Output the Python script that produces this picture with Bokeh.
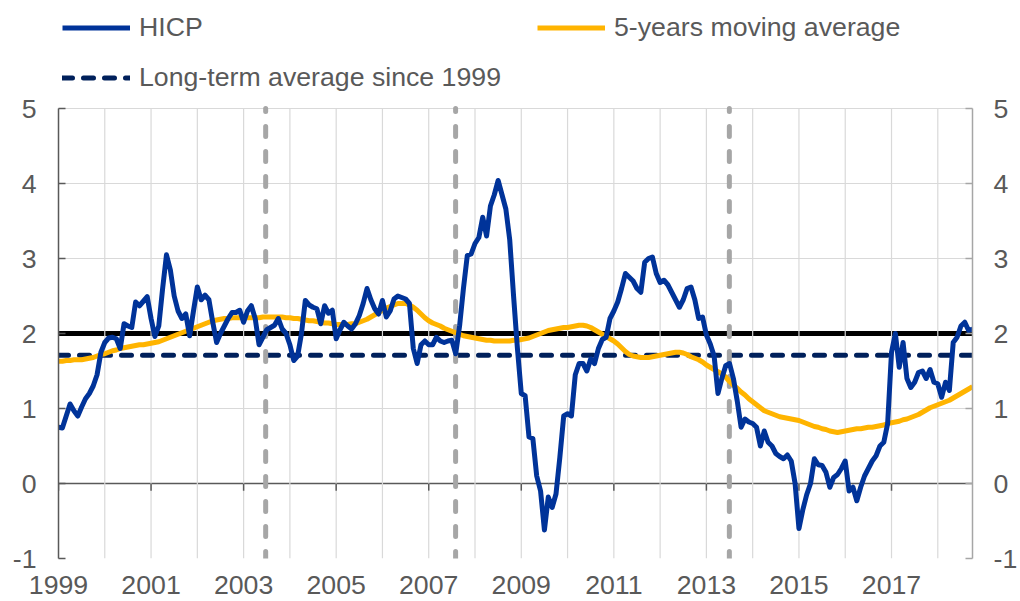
import pandas as pd
from bokeh.plotting import figure
from bokeh.models import FixedTicker, LinearAxis, Range1d, Span, Legend, LegendItem
from bokeh.embed import file_html
from bokeh.resources import INLINE

# ---------------- data (monthly, from January 1999) ----------------
start = "1999-01-01"
hicp = [
    0.75, 0.74, 0.90, 1.06, 0.97, 0.90, 1.02, 1.13, 1.20, 1.30, 1.45, 1.75,   # 1999
    1.88, 1.94, 1.95, 1.93, 1.80, 2.13, 2.10, 2.08, 2.42, 2.37, 2.43, 2.49,   # 2000
    2.20, 1.96, 2.10, 2.60, 3.05, 2.85, 2.50, 2.30, 2.20, 2.26, 1.97, 2.30,   # 2001
    2.62, 2.45, 2.51, 2.45, 2.15, 1.88, 2.00, 2.10, 2.20, 2.28, 2.28, 2.31,   # 2002
    2.15, 2.30, 2.37, 2.20, 1.85, 1.95, 2.05, 2.08, 2.11, 2.20, 2.06, 2.00,   # 2003
    1.85, 1.64, 1.70, 2.00, 2.44, 2.38, 2.35, 2.33, 2.13, 2.37, 2.27, 2.31,   # 2004
    1.93, 2.05, 2.15, 2.10, 2.06, 2.13, 2.24, 2.40, 2.60, 2.45, 2.33, 2.26,   # 2005
    2.44, 2.22, 2.30, 2.46, 2.50, 2.48, 2.46, 2.40, 1.80, 1.60, 1.85, 1.90,   # 2006
    1.85, 1.85, 1.95, 1.90, 1.88, 1.90, 1.91, 1.73, 2.10, 2.60, 3.04, 3.06,   # 2007
    3.20, 3.28, 3.55, 3.30, 3.70, 3.85, 4.04, 3.85, 3.66, 3.25, 2.50, 1.80,   # 2008
    1.20, 1.17, 0.62, 0.60, 0.10, -0.10, -0.62, -0.18, -0.32, -0.14, 0.35, 0.90,  # 2009
    0.93, 0.90, 1.45, 1.60, 1.60, 1.50, 1.66, 1.60, 1.80, 1.92, 1.95, 2.20,   # 2010
    2.30, 2.42, 2.60, 2.80, 2.75, 2.70, 2.60, 2.55, 2.95, 3.00, 3.02, 2.80,   # 2011
    2.68, 2.71, 2.65, 2.55, 2.45, 2.35, 2.45, 2.60, 2.62, 2.45, 2.20, 2.22,   # 2012
    1.98, 1.86, 1.70, 1.20, 1.40, 1.57, 1.60, 1.40, 1.10, 0.75, 0.86, 0.82,   # 2013
    0.80, 0.75, 0.50, 0.70, 0.55, 0.50, 0.40, 0.36, 0.33, 0.38, 0.30, 0.00,   # 2014
    -0.60, -0.35, -0.15, 0.00, 0.33, 0.25, 0.24, 0.15, -0.05, 0.08, 0.12, 0.20,  # 2015
    0.30, -0.10, -0.05, -0.23, -0.05, 0.10, 0.20, 0.30, 0.37, 0.50, 0.55, 0.80,  # 2016
    1.75, 2.00, 1.55, 1.88, 1.40, 1.28, 1.35, 1.48, 1.50, 1.40, 1.52, 1.35,   # 2017
    1.33, 1.15, 1.35, 1.24, 1.88, 1.95, 2.10, 2.15, 2.04, 2.06,               # 2018
]
ma5 = [
    1.63, 1.63, 1.64, 1.64, 1.65, 1.65, 1.65, 1.66, 1.67, 1.68, 1.70, 1.72,   # 1999
    1.73, 1.75, 1.77, 1.78, 1.80, 1.81, 1.82, 1.83, 1.84, 1.85, 1.85, 1.86,   # 2000
    1.87, 1.88, 1.89, 1.91, 1.93, 1.95, 1.97, 1.99, 2.01, 2.03, 2.05, 2.07,   # 2001
    2.09, 2.11, 2.13, 2.15, 2.17, 2.18, 2.19, 2.20, 2.20, 2.21, 2.21, 2.21,   # 2002
    2.21, 2.21, 2.21, 2.21, 2.21, 2.22, 2.22, 2.22, 2.22, 2.22, 2.22, 2.21,   # 2003
    2.21, 2.20, 2.20, 2.19, 2.18, 2.17, 2.17, 2.16, 2.15, 2.14, 2.14, 2.13,   # 2004
    2.12, 2.12, 2.12, 2.12, 2.13, 2.13, 2.15, 2.17, 2.19, 2.22, 2.25, 2.28,   # 2005
    2.31, 2.34, 2.36, 2.38, 2.40, 2.40, 2.40, 2.38, 2.35, 2.31, 2.26, 2.21,   # 2006
    2.17, 2.14, 2.12, 2.10, 2.07, 2.05, 2.03, 2.01, 1.99, 1.97, 1.96, 1.95,   # 2007
    1.94, 1.93, 1.92, 1.91, 1.91, 1.90, 1.90, 1.90, 1.90, 1.90, 1.91, 1.91,   # 2008
    1.92, 1.93, 1.94, 1.96, 1.98, 2.00, 2.02, 2.04, 2.05, 2.06, 2.07, 2.08,   # 2009
    2.08, 2.09, 2.10, 2.11, 2.11, 2.10, 2.08, 2.05, 2.02, 1.99, 1.96, 1.93,   # 2010
    1.90, 1.86, 1.81, 1.76, 1.72, 1.70, 1.69, 1.68, 1.68, 1.68, 1.69, 1.70,   # 2011
    1.71, 1.72, 1.73, 1.74, 1.75, 1.75, 1.74, 1.72, 1.69, 1.67, 1.65, 1.62,   # 2012
    1.58, 1.55, 1.52, 1.49, 1.46, 1.42, 1.36, 1.31, 1.27, 1.22, 1.18, 1.13,   # 2013
    1.09, 1.05, 1.01, 0.97, 0.95, 0.93, 0.91, 0.89, 0.88, 0.87, 0.86, 0.85,   # 2014
    0.84, 0.82, 0.80, 0.78, 0.76, 0.75, 0.73, 0.72, 0.70, 0.69, 0.68, 0.69,   # 2015
    0.70, 0.71, 0.72, 0.73, 0.73, 0.74, 0.75, 0.75, 0.76, 0.77, 0.78, 0.80,   # 2016
    0.81, 0.82, 0.83, 0.85, 0.86, 0.88, 0.90, 0.92, 0.95, 0.98, 1.01, 1.03,   # 2017
    1.05, 1.07, 1.09, 1.11, 1.14, 1.17, 1.20, 1.23, 1.26, 1.29,               # 2018
]
long_term_avg = 1.71
target = 2.0
event_dates = ["2003-06-24", "2007-08-01", "2013-07-01"]
label_years = [1999, 2001, 2003, 2005, 2007, 2009, 2011, 2013, 2015, 2017]
grid_years = list(range(1999, 2019))
y_ticks = [-1, 0, 1, 2, 3, 4, 5]
y_tick_labels = {t: str(t) for t in y_ticks}   # plain hyphen for "-1"
labels = ["HICP", "5-years moving average", "Long-term average since 1999"]

# ---------------- helpers ----------------
dates = pd.date_range(start, periods=len(hicp), freq="MS")
x = list(dates.year + (dates.month - 1) / 12.0)


def decimal_year(s):
    d = pd.Timestamp(s)
    return d.year + (d.dayofyear - 1) / (366 if d.is_leap_year else 365)


events = [decimal_year(d) for d in event_dates]
y_lo, y_hi = min(y_ticks), max(y_ticks)
legend_room = 108 / 75.0          # space above the value 5 that holds the legend

TXT = "#595959"
FONT = "Liberation Sans"
FS = "26.7px"
GRID = "#d9d9d9"

p = figure(width=1020, height=601, output_backend="svg", toolbar_location=None,
           x_range=Range1d(x[0], x[-1]), y_range=Range1d(y_lo, y_hi + legend_room),
           min_border_left=58, min_border_right=48, min_border_top=0,
           min_border_bottom=43, outline_line_color=None)
p.background_fill_color = "white"
p.border_fill_color = "white"

# grid: horizontal via grid, vertical as segments limited to the value range
p.xgrid.grid_line_color = None
p.ygrid.ticker = FixedTicker(ticks=y_ticks)
p.ygrid.grid_line_color = GRID
p.ygrid.grid_line_width = 1.2
p.segment(x0=grid_years, y0=[y_lo] * len(grid_years), x1=grid_years,
          y1=[y_hi] * len(grid_years), line_color=GRID, line_width=1.2)

# bottom axis: labels only
xa = p.xaxis[0]
xa.ticker = FixedTicker(ticks=label_years)
xa.axis_line_color = None
xa.major_tick_line_color = None
xa.minor_tick_line_color = None
xa.major_label_text_font_size = FS
xa.major_label_text_color = TXT
xa.major_label_text_font = FONT
xa.major_label_standoff = 11

# left axis
ya = p.yaxis[0]
ya.ticker = FixedTicker(ticks=y_ticks)
ya.bounds = (y_lo, y_hi)
ya.major_label_overrides = y_tick_labels
ya.axis_line_color = TXT
ya.axis_line_width = 1.5
ya.major_tick_line_color = TXT
ya.major_tick_line_width = 1.5
ya.major_tick_in = 7
ya.major_tick_out = 0
ya.minor_tick_line_color = None
ya.major_label_text_font_size = FS
ya.major_label_text_color = TXT
ya.major_label_text_font = FONT
ya.major_label_standoff = 22

# right axis
ra = LinearAxis(ticker=FixedTicker(ticks=y_ticks), bounds=(y_lo, y_hi))
ra.major_label_overrides = y_tick_labels
ra.axis_line_color = "#a6a6a6"
ra.axis_line_width = 1.5
ra.major_tick_line_color = "#a6a6a6"
ra.major_tick_line_width = 1.5
ra.major_tick_in = 7
ra.major_tick_out = 0
ra.minor_tick_line_color = None
ra.major_label_text_font_size = FS
ra.major_label_text_color = TXT
ra.major_label_text_font = FONT
ra.major_label_standoff = 21
p.add_layout(ra, "right")

# zero line with downward ticks at labelled years
p.add_layout(Span(location=0, dimension="width", line_color=TXT, line_width=1.6, level="underlay"))
p.segment(x0=label_years, y0=[0] * len(label_years), x1=label_years,
          y1=[-0.095] * len(label_years), line_color=TXT, line_width=1.5)

# target line at 2%
p.add_layout(Span(location=target, dimension="width", line_color="black", line_width=5, level="underlay"))

# long-term average
r_lta = p.line([x[0], x[-1]], [long_term_avg, long_term_avg], line_color="#00205b",
               line_width=5, line_dash="10 11", line_cap="round")

# event lines (limited to the value range)
p.segment(x0=events, y0=[y_lo - 0.04] * len(events), x1=events, y1=[y_hi] * len(events),
          line_color="#a6a6a6", line_width=5, line_dash="10 15", line_cap="round")

r_ma = p.line(x, ma5, line_color="#ffb400", line_width=5, line_join="round")
r_hicp = p.line(x, hicp, line_color="#003399", line_width=5, line_join="round")

legend = Legend(items=[LegendItem(label=labels[0], renderers=[r_hicp]),
                       LegendItem(label=labels[1], renderers=[r_ma]),
                       LegendItem(label=labels[2], renderers=[r_lta])],
                orientation="horizontal", ncols=2,
                location=(4, 465), glyph_width=68, glyph_height=31, label_height=31,
                label_standoff=9, label_width=379, spacing=19, padding=0, margin=0,
                border_line_color=None, background_fill_alpha=0,
                label_text_font_size=FS, label_text_color=TXT, label_text_font=FONT)
p.add_layout(legend)

open("out.html", "w").write(file_html(p, INLINE))
